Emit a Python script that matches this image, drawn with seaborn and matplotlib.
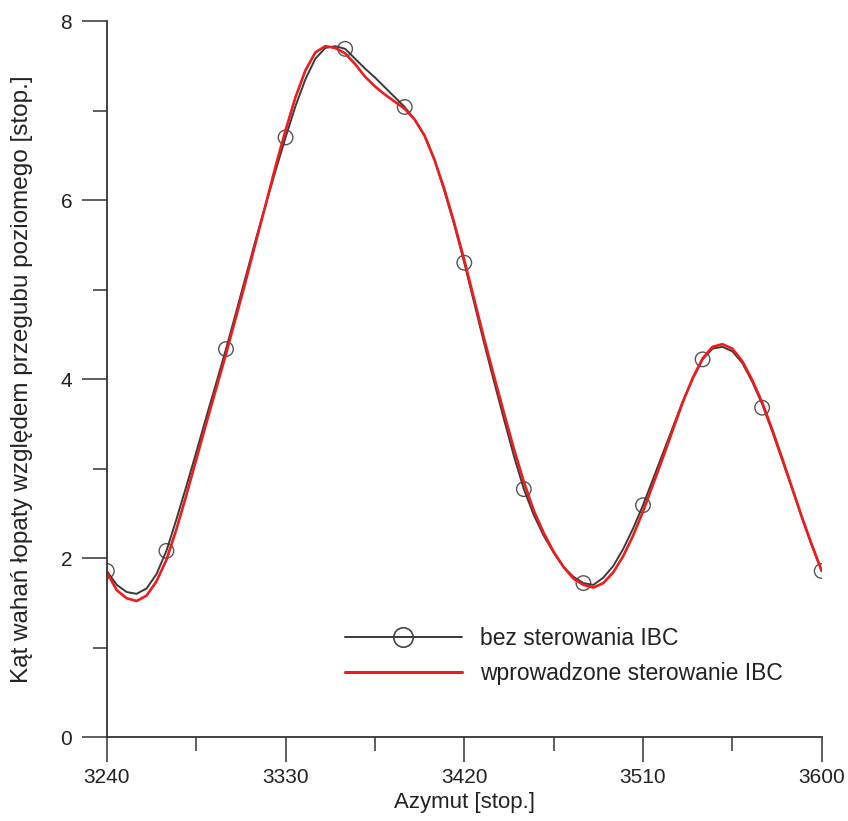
import numpy as np
import pandas as pd
import matplotlib
matplotlib.use("Agg")
import matplotlib.pyplot as plt
from matplotlib.lines import Line2D
from matplotlib.ticker import MultipleLocator
import seaborn as sns

# ---- data ----
azimuth = list(range(3240, 3601, 5))
bez_ibc_curve = [1.855, 1.70, 1.62, 1.60, 1.66, 1.82, 2.08, 2.43, 2.80, 3.18, 3.57, 3.95,
                 4.335, 4.74, 5.15, 5.56, 5.95, 6.33, 6.70, 7.05, 7.35, 7.58, 7.70, 7.72,
                 7.69, 7.58, 7.47, 7.37, 7.26, 7.15, 7.04, 6.90, 6.72, 6.45, 6.10, 5.72,
                 5.30, 4.85, 4.40, 3.97, 3.55, 3.14, 2.77, 2.48, 2.25, 2.06, 1.90, 1.79,
                 1.72, 1.70, 1.78, 1.91, 2.10, 2.33, 2.59, 2.88, 3.17, 3.46, 3.75, 4.00,
                 4.22, 4.34, 4.36, 4.31, 4.18, 3.97, 3.72, 3.42, 3.10, 2.78, 2.45, 2.14, 1.855]
z_ibc_curve = [1.84, 1.64, 1.55, 1.52, 1.58, 1.74, 1.98, 2.32, 2.70, 3.10, 3.50, 3.89,
               4.28, 4.69, 5.10, 5.53, 5.95, 6.38, 6.78, 7.15, 7.45, 7.65, 7.72, 7.70,
               7.64, 7.52, 7.38, 7.27, 7.18, 7.10, 7.02, 6.90, 6.72, 6.45, 6.12, 5.74,
               5.33, 4.89, 4.45, 4.03, 3.62, 3.22, 2.85, 2.53, 2.28, 2.07, 1.90, 1.77,
               1.70, 1.67, 1.72, 1.84, 2.02, 2.25, 2.52, 2.82, 3.12, 3.43, 3.74, 4.01,
               4.23, 4.36, 4.39, 4.34, 4.20, 3.99, 3.74, 3.44, 3.12, 2.79, 2.46, 2.15, 1.855]
marker_azimuth = [3240, 3270, 3300, 3330, 3360, 3390, 3420, 3450, 3480, 3510, 3540, 3570, 3600]
marker_values = [1.855, 2.08, 4.335, 6.70, 7.69, 7.04, 5.30, 2.77, 1.72, 2.59, 4.22, 3.68, 1.855]

label_bez = "bez sterowania IBC"
label_z = "wprowadzone sterowanie IBC"
xticks = [3240, 3330, 3420, 3510, 3600]
yticks = [0, 2, 4, 6, 8]

# ---- styling ----
sns.set_style("ticks")
plt.rcParams['font.family'] = ['Liberation Sans', 'DejaVu Sans']
plt.rcParams['font.size'] = 15
text_col = "#222222"
axis_col = "#333333"

fig = plt.figure(figsize=(8.48, 8.21), dpi=100)
ax = fig.add_axes([0.126, 0.1023, 0.843, 0.872])

df = pd.DataFrame({
    "az": azimuth * 2,
    "val": bez_ibc_curve + z_ibc_curve,
    "series": [label_bez] * len(azimuth) + [label_z] * len(azimuth),
})
palette = {label_bez: "#3a3a3a", label_z: "#ee1c1c"}
sns.lineplot(data=df[df.series == label_bez], x="az", y="val", color=palette[label_bez],
             linewidth=1.4, ax=ax, legend=False)
sns.lineplot(data=df[df.series == label_z], x="az", y="val", color=palette[label_z],
             linewidth=1.9, ax=ax, legend=False)
mdf = pd.DataFrame({"az": marker_azimuth, "val": marker_values})
sns.scatterplot(data=mdf, x="az", y="val", marker="o", s=110, facecolor="none",
                edgecolor="#555555", linewidth=1.0, ax=ax, legend=False, zorder=1)

ax.set_xlim(3240, 3600)
ax.set_ylim(0, 8)
ax.set_xticks(xticks)
ax.set_yticks(yticks)
ax.xaxis.set_minor_locator(MultipleLocator(45))
ax.yaxis.set_minor_locator(MultipleLocator(1))
ax.tick_params(axis='both', which='major', direction='out', length=18, width=1.1,
               color=axis_col, labelcolor=text_col, labelsize=15)
ax.tick_params(axis='y', which='major', pad=7)
ax.tick_params(axis='x', which='major', pad=4)
ax.tick_params(axis='both', which='minor', direction='out', length=10, width=1.1, color=axis_col)
for s in ["top", "right"]:
    ax.spines[s].set_visible(False)
for s in ["left", "bottom"]:
    ax.spines[s].set_color(axis_col)
    ax.spines[s].set_linewidth(1.3)

ax.set_xlabel("Azymut [stop.]", fontsize=16, color=text_col, labelpad=4)
ax.set_ylabel("Kąt wahań łopaty względem przegubu poziomego [stop.]", fontsize=17.5,
              color=text_col, labelpad=20)

handles = [
    Line2D([], [], color=palette[label_bez], linewidth=1.4, marker="o", markersize=14,
           markerfacecolor="none", markeredgecolor="#444444", markeredgewidth=1.2),
    Line2D([], [], color=palette[label_z], linewidth=2.2),
]
leg = ax.legend(handles, [label_bez, label_z], loc="upper left",
                bbox_to_anchor=(0.333, 0.153), frameon=False, handlelength=5.1,
                handletextpad=0.8, labelspacing=0.5, borderpad=0, borderaxespad=0,
                fontsize=16.5, markerscale=1, numpoints=1)
for t in leg.get_texts():
    t.set_color(text_col)

fig.savefig("out.png", dpi=100)
